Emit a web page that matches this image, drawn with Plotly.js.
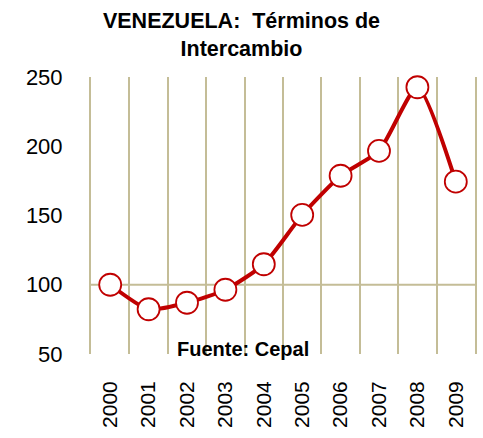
<!DOCTYPE html>
<html><head><meta charset="utf-8">
<script src="https://cdn.plot.ly/plotly-3.0.1.min.js"></script>
<style>html,body{margin:0;padding:0;background:#fff}#c{width:483px;height:438px}</style>
</head><body><div id="c"></div>
<script>
var years = ["2000","2001","2002","2003","2004","2005","2006","2007","2008","2009"];
var terminos = [100, 82.3, 87.0, 96.4, 114.8, 150.4, 178.7, 196.6, 242.6, 174.4];
var yTicks = [50, 100, 150, 200, 250];
var refLevel = 100;

var trace = {
  x: years, y: terminos, type: 'scatter', mode: 'lines+markers',
  line: {color: '#C00000', width: 4, shape: 'spline', smoothing: 0.6},
  marker: {size: 22, color: '#FFFFFF', line: {color: '#C00000', width: 1.8}},
  cliponaxis: false, hoverinfo: 'skip'
};
var layout = {
  width: 483, height: 438,
  margin: {l: 91, r: 8, t: 77, b: 84},
  paper_bgcolor: '#fff', plot_bgcolor: '#fff',
  showlegend: false,
  font: {family: '"Liberation Sans", Arial, sans-serif', color: '#000'},
  title: {text: '<b>VENEZUELA:  Términos de<br>Intercambio</b>', x: 0.5, xref: 'container', xanchor: 'center',
          y: 0.935, yref: 'container', yanchor: 'middle', font: {size: 21.5, color: '#000'}},
  xaxis: {type: 'category', tickson: 'boundaries', showgrid: true, gridcolor: '#C4BD97', gridwidth: 2,
          ticks: '', tickangle: -90, tickfont: {size: 21}, ticklabelstandoff: 22,
          showline: false, zeroline: false, range: [-0.5, 9.5]},
  yaxis: {range: [50, 250], tickvals: yTicks, showgrid: false, zeroline: false,
          showline: true, mirror: true, linecolor: '#C4BD97', linewidth: 2,
          ticks: '', tickfont: {size: 22}, ticklabelstandoff: 22},
  shapes: [{type: 'line', xref: 'paper', x0: 0, x1: 1, yref: 'y', y0: refLevel, y1: refLevel,
            line: {color: '#C4BD97', width: 2}, layer: 'below'}],
  annotations: [{text: '<b>Fuente: Cepal</b>', xref: 'paper', yref: 'paper', x: 0.396, y: 0.018,
                 xanchor: 'center', yanchor: 'middle', showarrow: false, font: {size: 20, color: '#000'}}]
};
Plotly.newPlot('c', [trace], layout, {displayModeBar: false, staticPlot: true});
</script></body></html>
